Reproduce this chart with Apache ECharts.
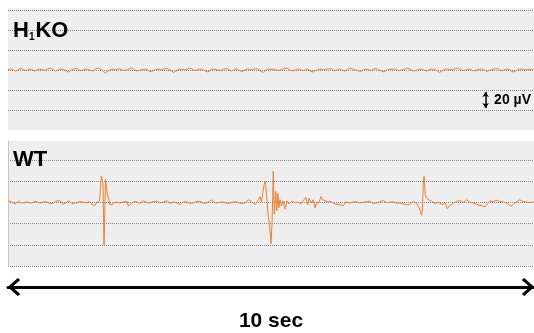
<!DOCTYPE html>
<html>
<head>
<meta charset="utf-8">
<script src="https://cdn.jsdelivr.net/npm/echarts/dist/echarts.min.js"></script>
<style>
html, body { margin: 0; padding: 0; background: #fff; }
#chart { width: 534px; height: 333px; }
</style>
</head>
<body>
<div id="chart"></div>
<script>
// H1KO trace, one value every 0.05 s (µV)
let koStep = 0.05;
let koValues = [
    0.5, 1, 0, -1, 0.5, 1.5, 0, -0.5, 1, 0.5, -1, 0, 1, 0.5, -0.5, 1, 2, 0.5, -1, 0,
    1, 0.5, -0.5, -2, 0, 1, 1.5, 0, -0.5, 0.5, 1, 0, -1, 0.5, 2, 1, -0.5, -3, -1, 0.5,
    1, 0, 1.5, 0.5, -0.5, 0, 1, 2, 0.5, -1, -0.5, 0.5, 1, 0, -1.5, -1, 0.5, 1, 0, 0.5,
    1.5, 1, -0.5, -2.5, -1, 0.5, 1, 0, 0.5, 2, 1, -0.5, 0, 1, 0.5, -1, -2, 0, 1, 0.5,
    0, -0.5, 1, 1.5, 0, -1, 0.5, 1, -0.5, -1.5, 0, 1, 0.5, 0, 1.5, 1, -1, -2.5, 0, 1,
    0.5, 1, 0, -0.5, 0.5, 1.5, 2, 0.5, -1, 0, 1, 0.5, -0.5, 0, 1, -1, -2, -0.5, 0.5, 1,
    0, 0.5, 1.5, 1, -0.5, 0, 1, 0, -1, 0.5, 2, 1, 0, -0.5, -1.5, 0, 1, 0.5, -0.5, 1,
    1.5, 0, -1, -2, 0, 1, 0.5, 1, 0, -0.5, 0.5, 1, 2, 0.5, -1, -0.5, 0.5, 1, 0, -1,
    0, 1, 0.5, -0.5, -2.5, -1, 0.5, 1, 0.5, 0, 1.5, 2, 0.5, -0.5, 0, 1, 0.5, -1, 0, 0.5,
    1, 0, -1.5, -0.5, 0.5, 1, 1.5, 0, -0.5, 0.5, 1, 0, -2, -1, 0.5, 1, 0.5, 0, 1, 0.5,
    0
];

// WT trace, time (s) and voltage (µV)
let wtTime = [
    0.00, 0.07, 0.13, 0.20, 0.26, 0.36, 0.45, 0.51, 0.61, 0.67, 0.74, 0.80, 0.86, 0.93, 0.99,
    1.05, 1.12, 1.16, 1.21, 1.31, 1.35, 1.40, 1.50, 1.54, 1.59, 1.65, 1.68, 1.71, 1.74, 1.76,
    1.774, 1.793, 1.806, 1.825, 1.840, 1.854, 1.869, 1.888, 1.911, 1.94, 2.00, 2.05, 2.13, 2.19, 2.26,
    2.29, 2.35, 2.40, 2.45, 2.51, 2.57, 2.64, 2.70, 2.76, 2.83, 2.89, 2.95, 3.02, 3.08, 3.14,
    3.21, 3.27, 3.33, 3.40, 3.46, 3.52, 3.59, 3.65, 3.71, 3.78, 3.82, 3.87, 3.94, 4.02, 4.09,
    4.16, 4.22, 4.28, 4.35, 4.41, 4.51, 4.57, 4.63, 4.70, 4.76, 4.79, 4.82, 4.84, 4.87, 4.89,
    4.90, 4.92, 4.95, 4.97, 5.00, 5.02, 5.044, 5.063, 5.09, 5.11, 5.13, 5.15, 5.17, 5.20, 5.23,
    5.27, 5.30, 5.34, 5.40, 5.46, 5.51, 5.56, 5.61, 5.66, 5.70, 5.72, 5.76, 5.80, 5.84, 5.87,
    5.91, 5.95, 5.98, 6.03, 6.08, 6.12, 6.22, 6.31, 6.37, 6.43, 6.50, 6.60, 6.69, 6.79, 6.88,
    6.94, 7.01, 7.07, 7.14, 7.21, 7.26, 7.33, 7.40, 7.45, 7.51, 7.58, 7.64, 7.71, 7.77, 7.80,
    7.83, 7.86, 7.88, 7.895, 7.91, 7.92, 7.93, 7.96, 8.01, 8.05, 8.12, 8.18, 8.25, 8.31, 8.35,
    8.37, 8.40, 8.47, 8.53, 8.59, 8.66, 8.72, 8.78, 8.88, 8.94, 9.01, 9.07, 9.13, 9.16, 9.22,
    9.29, 9.35, 9.42, 9.49, 9.53, 9.57, 9.62, 9.67, 9.73, 9.79, 9.86, 9.92, 10.00
];
let wtVolt = [
    1.4, 0.5, -1.4, 1.1, -0.5, 0.5, -0.7, 1.1, -0.5, 0.5, 0.5, -1.4, -0.5, 1.4, 1.6,
    -1.8, 0.5, 1.4, -1.1, -0.5, 0.9, 0.5, -0.5, 0.9, -1.4, -3.2, -0.5, -2.3, 1.4, 13,
    25, 24, 17.7, -40, -9.5, 22, 20.5, 7.7, 4, -2.3, -1.4, 0.5, -0.5, 0.5, 1.1,
    -3.5, -0.5, 0.9, 0.5, -0.9, 1.6, 0, -0.5, 0.9, 1.1, -0.5, 0.5, 1.6, -0.9, 0.5,
    -0.5, -2, 0.5, 0.5, -0.9, -0.5, 0.9, 1.1, -0.9, -0.5, 0.9, 2.5, -0.5, 0, 0.5,
    -0.9, -0.5, 0.5, 0.5, -0.9, -0.5, 2.5, 0.5, -2, 2.5, 5.6, 0.5, 7.7, 16.8, 19.8,
    16.8, 4, -14, -21, -39, -18.6, 29.5, -11, 10.5, -7.7, 8.6, -5, 2.5, -3.2, 1.4,
    -6.5, 1.6, -1.4, 1.4, -0.5, 0.5, -1.4, 1.4, 4.7, -2, 4.1, -0.5, 2.5, -5, 0.5,
    -0.5, 5.6, 2.5, 1.6, 0.5, 1.1, -1.4, -2, -3.2, 0.5, -0.5, 0.9, -0.5, 0.5, 1.1,
    -0.9, -0.5, 0.9, 1.6, -0.5, 0.5, 0.5, -0.9, -0.5, -1.4, -2.3, -2, 1.1, -1.1, -1.4,
    -6.5, -12, -6.5, 17.7, 24.7, 17.7, 7.1, 4.1, 2, 1.1, -1.1, 0.2, -2, -0.5, -5.9,
    -7.1, -2.9, -0.5, 1.1, 1.6, 0.2, 2.5, 0.2, -1.1, -2.3, -3.2, -4.1, -0.5, 1.6, 0.9,
    2, 0.9, 0.5, -0.9, -2.3, -3.5, -0.9, 0.5, 2.5, 0.9, 0.5, 0, 0.5
];

// scale bar: 20 µV, between the -20 and -40 grid lines
let scaleBar = { time: 9.08, from: -22, to: -38, mid: -30, text: '20 µV' };

let traceColor = '#ef7f2a';
let font = '"Liberation Sans", Arial, Helvetica, sans-serif';
let chevron = 'path://M9,0L18,10L16,12.5L9,4.5L2,12.5L0,10Z';

let koData = koValues.map((v, i) => [i * koStep, v]);
let wtData = wtTime.map((t, i) => [t, wtVolt[i]]);

let myChart = echarts.init(document.getElementById('chart'), null, { renderer: 'canvas' });

let option = {
    animation: false,
    backgroundColor: '#ffffff',
    title: [{
        text: '{b|H}{s|1}{b|KO}',
        left: 13,
        top: 20,
        padding: 0,
        textStyle: {
            rich: {
                b: { fontSize: 22, fontWeight: 'bold', color: '#000', fontFamily: font },
                s: { fontSize: 10, fontWeight: 'bold', color: '#000', fontFamily: font, padding: [12, 1, 0, 0] }
            }
        }
    }, {
        text: 'WT',
        left: 13,
        top: 149,
        padding: 0,
        textStyle: { fontSize: 22, fontWeight: 'bold', color: '#000', fontFamily: font }
    }],
    grid: [
        { left: 8, right: 0, top: 8, height: 122, show: true, backgroundColor: '#eeeeee', borderWidth: 0 },
        { left: 8, right: 0, top: 141, height: 130, show: true, backgroundColor: '#eeeeee', borderWidth: 0 }
    ],
    xAxis: [{
        gridIndex: 0,
        type: 'value',
        min: 0,
        max: 10,
        show: false
    }, {
        gridIndex: 1,
        type: 'value',
        min: 0,
        max: 10,
        offset: 21,
        axisLine: {
            show: true,
            onZero: false,
            symbol: [chevron, chevron],
            symbolSize: [18, 13],
            symbolOffset: [6, -6],
            lineStyle: { color: '#000', width: 3 }
        },
        axisTick: { show: false },
        axisLabel: { show: false },
        splitLine: { show: false },
        name: '10 sec',
        nameLocation: 'middle',
        nameGap: 24,
        nameTextStyle: { fontSize: 21, fontWeight: 'bold', color: '#000', fontFamily: font }
    }],
    yAxis: [{
        gridIndex: 0,
        type: 'value',
        min: -60,
        max: 62,
        interval: 20,
        axisLine: { show: false },
        axisTick: { show: false },
        axisLabel: { show: false },
        splitLine: {
            show: true,
            showMinLine: false,
            showMaxLine: false,
            lineStyle: { type: 'dotted', color: '#888888', width: 1 }
        }
    }, {
        gridIndex: 1,
        type: 'value',
        min: -60,
        max: 58,
        interval: 20,
        axisLine: { show: true, onZero: false, lineStyle: { color: '#c6c6c6', width: 1 } },
        axisTick: { show: false },
        axisLabel: { show: false },
        splitLine: {
            show: true,
            showMinLine: true,
            showMaxLine: false,
            lineStyle: { type: 'dotted', color: '#888888', width: 1 }
        }
    }],
    series: [{
        name: 'H1KO',
        type: 'line',
        xAxisIndex: 0,
        yAxisIndex: 0,
        data: koData,
        symbol: 'none',
        lineStyle: { color: traceColor, width: 1 },
        z: 3,
        markLine: {
            silent: true,
            symbol: ['arrow', 'arrow'],
            symbolSize: [5, 5],
            label: { show: false },
            lineStyle: { color: '#000', width: 1.5, type: 'solid' },
            data: [[{ coord: [scaleBar.time, scaleBar.from] }, { coord: [scaleBar.time, scaleBar.to] }]]
        },
        markPoint: {
            silent: true,
            symbol: 'circle',
            symbolSize: 1,
            itemStyle: { color: 'rgba(0,0,0,0)' },
            label: {
                show: true,
                position: 'right',
                distance: 8,
                formatter: scaleBar.text,
                color: '#000',
                fontSize: 14,
                fontWeight: 'bold',
                fontFamily: font
            },
            data: [{ coord: [scaleBar.time, scaleBar.mid] }]
        }
    }, {
        name: 'WT',
        type: 'line',
        xAxisIndex: 1,
        yAxisIndex: 1,
        data: wtData,
        symbol: 'none',
        lineStyle: { color: traceColor, width: 1 },
        z: 3
    }]
};

myChart.setOption(option);
</script>
</body>
</html>
